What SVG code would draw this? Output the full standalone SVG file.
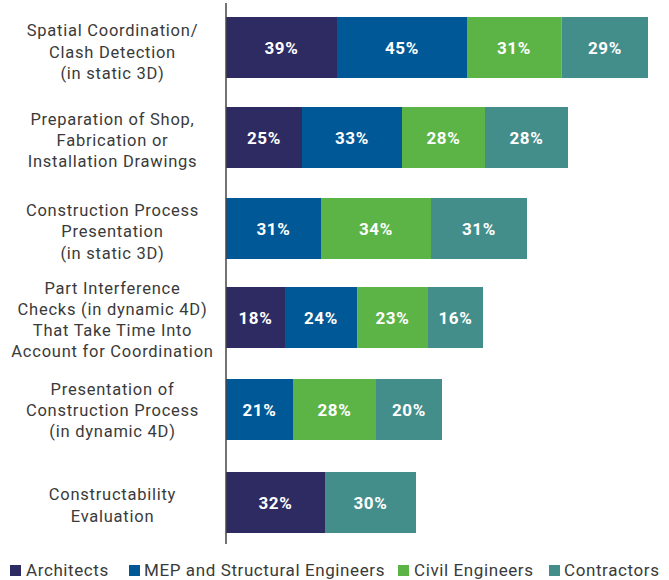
<svg xmlns="http://www.w3.org/2000/svg" width="669" height="580" viewBox="0 0 669 580">
<style>
.lbl{font-family:Roboto,"Liberation Sans",sans-serif;font-size:16.5px;letter-spacing:0.75px;fill:#3a3a3a;text-anchor:middle}
.pct{font-family:Roboto,"Liberation Sans",sans-serif;font-size:17px;font-weight:700;letter-spacing:0.7px;fill:#ffffff;text-anchor:middle}
.leg{font-family:Roboto,"Liberation Sans",sans-serif;font-size:17px;letter-spacing:0.6px;fill:#3a3a3a}
.a{fill:#2E2B63}.m{fill:#005896}.c{fill:#5CB446}.k{fill:#438E8B}
</style>
<rect width="669" height="580" fill="#ffffff"/>
<g id="row1">
<rect class="a" x="226" y="17" width="111" height="61"/>
<rect class="m" x="337" y="17" width="130" height="61"/>
<rect class="c" x="467" y="17" width="94.5" height="61"/>
<rect class="k" x="561.5" y="17" width="86.5" height="61"/>
<text class="pct" x="281.5" y="54">39%</text>
<text class="pct" x="402" y="54">45%</text>
<text class="pct" x="514" y="54">31%</text>
<text class="pct" x="605" y="54">29%</text>
<text class="lbl" x="112.5" y="36">Spatial Coordination/</text>
<text class="lbl" x="112.5" y="57.5">Clash Detection</text>
<text class="lbl" x="112.5" y="79">(in static 3D)</text>
</g>
<g id="row2">
<rect class="a" x="226" y="107" width="76" height="61"/>
<rect class="m" x="302" y="107" width="100" height="61"/>
<rect class="c" x="402" y="107" width="83" height="61"/>
<rect class="k" x="485" y="107" width="83" height="61"/>
<text class="pct" x="264" y="144">25%</text>
<text class="pct" x="352" y="144">33%</text>
<text class="pct" x="443.5" y="144">28%</text>
<text class="pct" x="526.5" y="144">28%</text>
<text class="lbl" x="112.5" y="125">Preparation of Shop,</text>
<text class="lbl" x="112.5" y="146">Fabrication or</text>
<text class="lbl" x="112.5" y="167">Installation Drawings</text>
</g>
<g id="row3">
<rect class="m" x="226" y="198" width="95" height="61"/>
<rect class="c" x="321" y="198" width="110" height="61"/>
<rect class="k" x="431" y="198" width="96" height="61"/>
<text class="pct" x="273.5" y="235">31%</text>
<text class="pct" x="376" y="235">34%</text>
<text class="pct" x="479" y="235">31%</text>
<text class="lbl" x="112.5" y="216">Construction Process</text>
<text class="lbl" x="112.5" y="237.3">Presentation</text>
<text class="lbl" x="112.5" y="258.5">(in static 3D)</text>
</g>
<g id="row4">
<rect class="a" x="226" y="287" width="59" height="61"/>
<rect class="m" x="285" y="287" width="72.5" height="61"/>
<rect class="c" x="357.5" y="287" width="70.5" height="61"/>
<rect class="k" x="428" y="287" width="55" height="61"/>
<text class="pct" x="255.5" y="324">18%</text>
<text class="pct" x="321" y="324">24%</text>
<text class="pct" x="392.5" y="324">23%</text>
<text class="pct" x="455.5" y="324">16%</text>
<text class="lbl" x="112.5" y="293.5">Part Interference</text>
<text class="lbl" x="112.5" y="315">Checks (in dynamic 4D)</text>
<text class="lbl" x="112.5" y="336">That Take Time Into</text>
<text class="lbl" x="112.5" y="357">Account for Coordination</text>
</g>
<g id="row5">
<rect class="m" x="226" y="379" width="67" height="61"/>
<rect class="c" x="293" y="379" width="83" height="61"/>
<rect class="k" x="376" y="379" width="66" height="61"/>
<text class="pct" x="259.5" y="416">21%</text>
<text class="pct" x="334.5" y="416">28%</text>
<text class="pct" x="409" y="416">20%</text>
<text class="lbl" x="112.5" y="395">Presentation of</text>
<text class="lbl" x="112.5" y="416">Construction Process</text>
<text class="lbl" x="112.5" y="437">(in dynamic 4D)</text>
</g>
<g id="row6">
<rect class="a" x="226" y="472" width="99" height="61"/>
<rect class="k" x="325" y="472" width="91" height="61"/>
<text class="pct" x="275.5" y="509">32%</text>
<text class="pct" x="370.5" y="509">30%</text>
<text class="lbl" x="112.5" y="500">Constructability</text>
<text class="lbl" x="112.5" y="521.5">Evaluation</text>
</g>
<g id="connectors">
<line x1="226" y1="3" x2="226" y2="544" stroke="#444444" stroke-width="1.5"/>
</g>
<g id="legend">
<rect class="a" x="10" y="565" width="11" height="11"/>
<text class="leg" x="26" y="576">Architects</text>
<rect class="m" x="129" y="565" width="11" height="11"/>
<text class="leg" x="144" y="576">MEP and Structural Engineers</text>
<rect class="c" x="398" y="565" width="11" height="11"/>
<text class="leg" x="414" y="576">Civil Engineers</text>
<rect class="k" x="549" y="565" width="11" height="11"/>
<text class="leg" x="564" y="576">Contractors</text>
</g>
</svg>
